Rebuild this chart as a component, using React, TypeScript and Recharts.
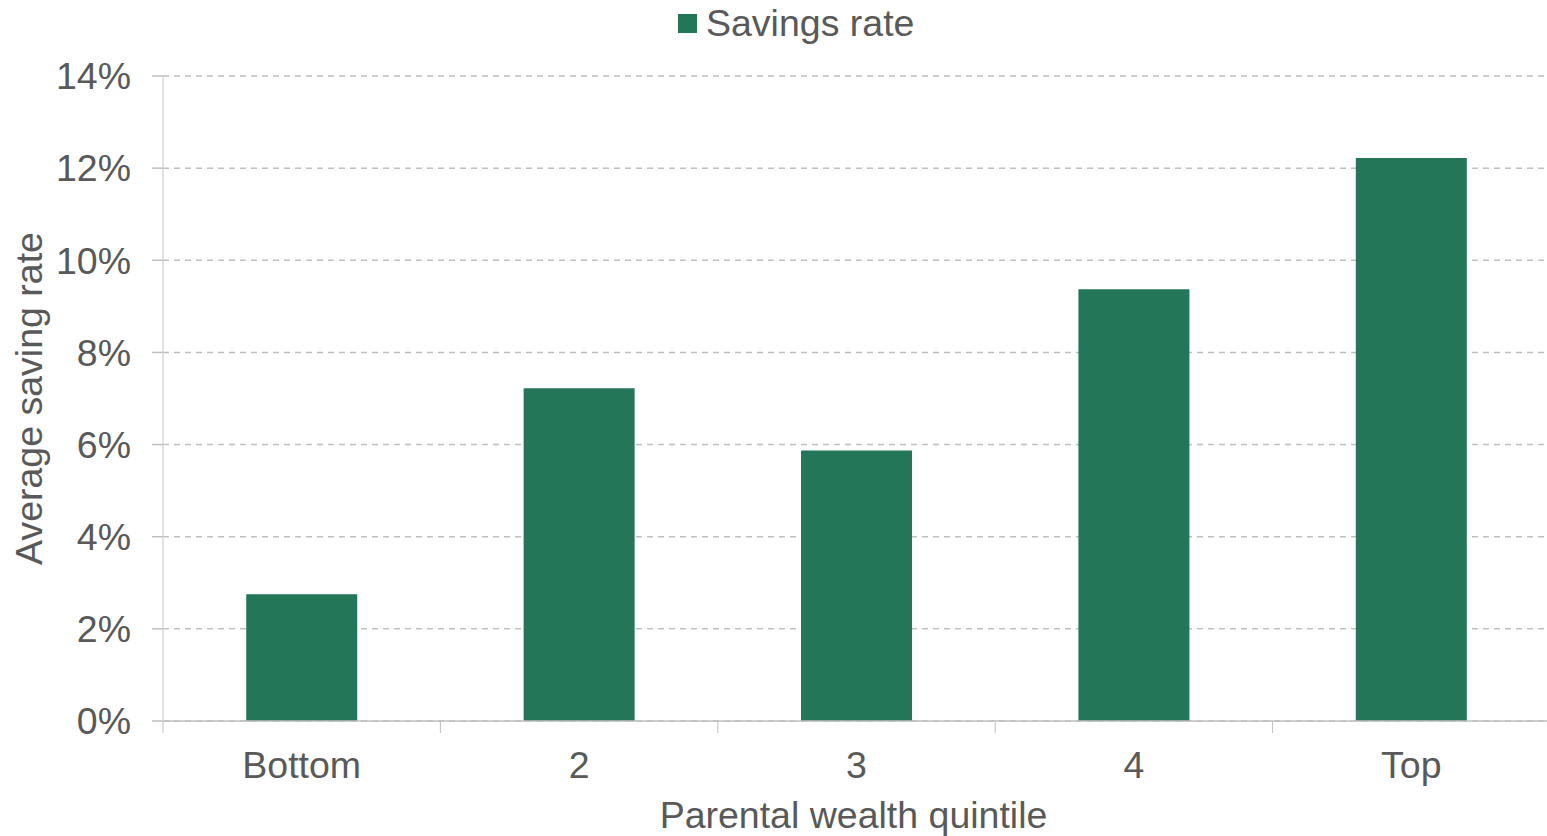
import React from 'react';
import { BarChart, Bar, XAxis, YAxis, CartesianGrid, Legend, Label } from 'recharts';

const categories = ['Bottom', '2', '3', '4', 'Top'];
const savingsRate = [2.75, 7.22, 5.87, 9.37, 12.22];
const yTicks = [0, 2, 4, 6, 8, 10, 12, 14];
const seriesName = 'Savings rate';

const data = categories.map((c, i) => ({ name: c, value: savingsRate[i] }));

const FONT = '"Liberation Sans", Arial, sans-serif';
const FS = 37.5;
const TEXT = '#595959';
const GREEN = '#237658';

const XTick = (props: any) => {
  const { x, y, payload } = props;
  const off = payload && payload.offset ? payload.offset : 0;
  return (
    <g>
      <line x1={x - off} x2={x - off} y1={y} y2={y + 12} stroke="#bfbfbf" strokeWidth={1} />
      <text x={x} y={y + 57} textAnchor="middle" fill={TEXT} fontSize={FS} fontFamily={FONT}>
        {payload.value}
      </text>
    </g>
  );
};

const LegendContent = () => (
  <div style={{ display: 'flex', alignItems: 'center', fontFamily: FONT, fontSize: FS, color: TEXT, lineHeight: '40px' }}>
    <span style={{ display: 'inline-block', width: 19, height: 19, background: GREEN, marginRight: 9 }} />
    <span>{seriesName}</span>
  </div>
);

export default function App() {
  return (
    <div style={{ position: 'absolute', left: 0, top: 0, width: 1547, height: 836, background: '#fff', overflow: 'hidden' }}>
      <BarChart
        width={1547}
        height={836}
        data={data}
        margin={{ top: 76, right: -3, bottom: 0, left: 0 }}
        barCategoryGap="30%"
      >
        <CartesianGrid vertical={false} stroke="#bfbfbf" strokeDasharray="6 5" strokeWidth={1.5} />
        <XAxis
          dataKey="name"
          height={115}
          tickSize={0}
          tickMargin={0}
          tickLine={false}
          axisLine={{ stroke: '#bfbfbf', strokeWidth: 1.5 }}
          tick={<XTick />}
          interval={0}
        >
          <Label
            content={(p: any) => {
              const vb = p.viewBox;
              return (
                <text x={vb.x + vb.width / 2 - 3} y={vb.y + 107} textAnchor="middle" fill={TEXT} fontSize={FS} fontFamily={FONT}>
                  Parental wealth quintile
                </text>
              );
            }}
          />
        </XAxis>
        <YAxis
          width={163}
          domain={[0, 14]}
          ticks={yTicks}
          interval={0}
          tickFormatter={(v: number) => `${v}%`}
          tickSize={11}
          tickMargin={21}
          tickLine={{ stroke: '#bfbfbf', strokeWidth: 1.5 }}
          axisLine={{ stroke: '#d9d9d9', strokeWidth: 1.5 }}
          tick={{ fill: TEXT, fontSize: FS, fontFamily: FONT }}
        >
          <Label
            content={(p: any) => {
              const vb = p.viewBox;
              const cy = vb.y + vb.height / 2;
              return (
                <text x={42} y={cy} transform={`rotate(-90, 42, ${cy})`} textAnchor="middle" fill={TEXT} fontSize={FS} fontFamily={FONT}>
                  Average saving rate
                </text>
              );
            }}
          />
        </YAxis>
        <Legend
          verticalAlign="middle"
          align="center"
          layout="horizontal"
          content={<LegendContent />}
          wrapperStyle={{ top: 3, left: 678, width: 'auto', height: 40 }}
        />
        <Bar dataKey="value" name={seriesName} fill={GREEN} isAnimationActive={false} />
      </BarChart>
    </div>
  );
}
